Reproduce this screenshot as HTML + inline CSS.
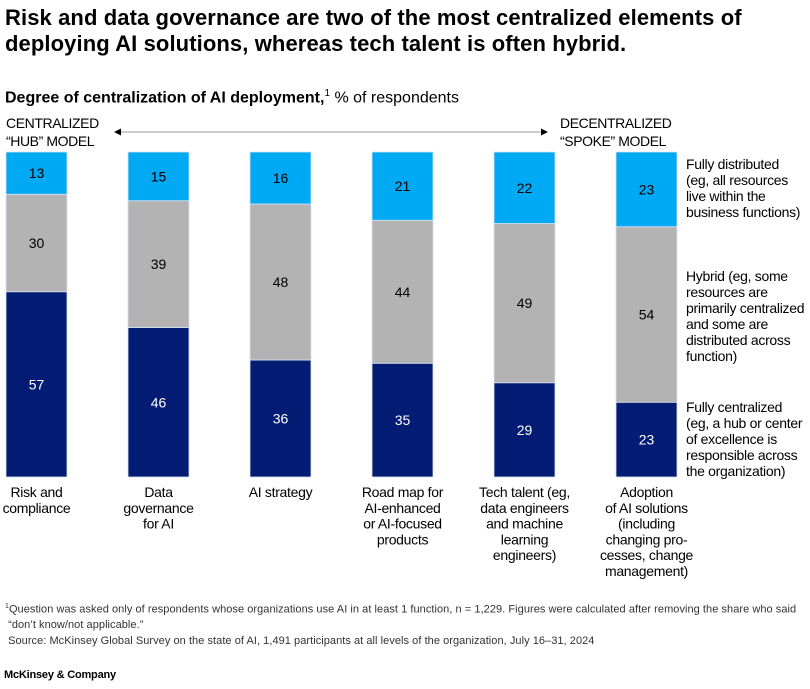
<!DOCTYPE html>
<html><head><meta charset="utf-8">
<style>
html,body{margin:0;padding:0;background:#fff;}
body{width:810px;height:689px;position:relative;overflow:hidden;font-family:"Liberation Sans",sans-serif;color:#000;}
.t{position:absolute;white-space:nowrap;}
</style></head>
<body>
<div class="t" style="left:5px;top:5px;font-size:22px;font-weight:bold;line-height:26px;letter-spacing:0.1px;">Risk and data governance are two of the most centralized elements of<br>deploying AI solutions, whereas tech talent is often hybrid.</div>
<div class="t" style="left:5px;top:84px;font-size:16px;line-height:20px;letter-spacing:0px;"><b>Degree of centralization of AI deployment,</b><sup style="font-size:10px">1</sup> % of respondents</div>
<svg id="chart" width="810" height="689" style="position:absolute;left:0;top:0;" font-family="Liberation Sans, sans-serif"></svg>
<div class="t" style="left:5px;top:599px;font-size:11px;line-height:15.5px;color:#333;letter-spacing:0.05px;"><sup style="font-size:7px">1</sup>Question was asked only of respondents whose organizations use AI in at least 1 function, n = 1,229. Figures were calculated after removing the share who said<br>&nbsp;“don’t know/not applicable.”<br>&nbsp;Source: McKinsey Global Survey on the state of AI, 1,491 participants at all levels of the organization, July 16–31, 2024</div>
<div class="t" style="left:4px;top:669px;font-size:11px;font-weight:bold;letter-spacing:-0.2px;">McKinsey &amp; Company</div>
<script>
const categories=[["Risk and","compliance"],["Data","governance","for AI"],["AI strategy"],["Road map for","AI-enhanced","or AI-focused","products"],["Tech talent (eg,","data engineers","and machine","learning","engineers)"],["Adoption","of AI solutions","(including","changing pro-","cesses, change","management)"]];
const centralized=[57,46,36,35,29,23];
const hybrid=[30,39,48,44,49,54];
const distributed=[13,15,16,21,22,23];
const legendLabels=[["Fully distributed","(eg, all resources","live within the","business functions)"],["Hybrid (eg, some","resources are","primarily centralized","and some are","distributed across","function)"],["Fully centralized","(eg, a hub or center","of excellence is","responsible across","the organization)"]];

const svg=document.getElementById('chart');
const NS='http://www.w3.org/2000/svg';
const top0=152,bottom0=477,x0=6,step=122,bw=61;
function y(v){return bottom0-(bottom0-top0)*v/100;}
function xb(i){return x0+i*step;}
function mk(tag,attrs){const e=document.createElementNS(NS,tag);for(const k in attrs)e.setAttribute(k,attrs[k]);svg.appendChild(e);return e;}
const series=[[centralized,'#051c74','#fff','centralized'],[hybrid,'#b3b3b3','#000','hybrid'],[distributed,'#00a9f4','#000','distributed']];
categories.forEach((c,i)=>{
  let acc=0;
  series.forEach(([arr,col,tc,nm])=>{
    const v=arr[i];const y1=y(acc+v),y2=y(acc);
    const r=mk('rect',{x:xb(i),y:y1,width:bw,height:y2-y1,fill:col,stroke:'#d8e4f0','stroke-width':0.8});
    
    
    const t=mk('text',{x:xb(i)+bw/2,y:(y1+y2)/2+5,'text-anchor':'middle','font-size':14,fill:tc});
    
    
    t.textContent=v;
    acc+=v;
  });
  c.forEach((ln,j)=>{
    const t=mk('text',{x:xb(i)+bw/2,y:497+j*15.8,'text-anchor':'middle','font-size':14,'letter-spacing':'-0.3'});
    
    
    t.textContent=ln;
  });
});
const legY=[169,281,412];
legendLabels.forEach((L,k)=>{L.forEach((ln,j)=>{
  const t=mk('text',{x:686,y:legY[k]+j*16,'font-size':14,'letter-spacing':'-0.3'});
  
  
  t.textContent=ln;
});});
const ln=mk('line',{x1:120,y1:132,x2:542,y2:132,stroke:'#999','stroke-width':1});


const a1=mk('path',{d:'M114,132 L121,128.5 L121,135.5 Z',fill:'#000'});


const a2=mk('path',{d:'M548,132 L541,128.5 L541,135.5 Z',fill:'#000'});


[["CENTRALIZED",6,128],["“HUB” MODEL",6,146],["DECENTRALIZED",560,128],["“SPOKE” MODEL",560,146]].forEach(([s,xx,yy])=>{
  const t=mk('text',{x:xx,y:yy,'font-size':14,'letter-spacing':'-0.4'});
  
  
  t.textContent=s;
});
</script>
</body></html>
